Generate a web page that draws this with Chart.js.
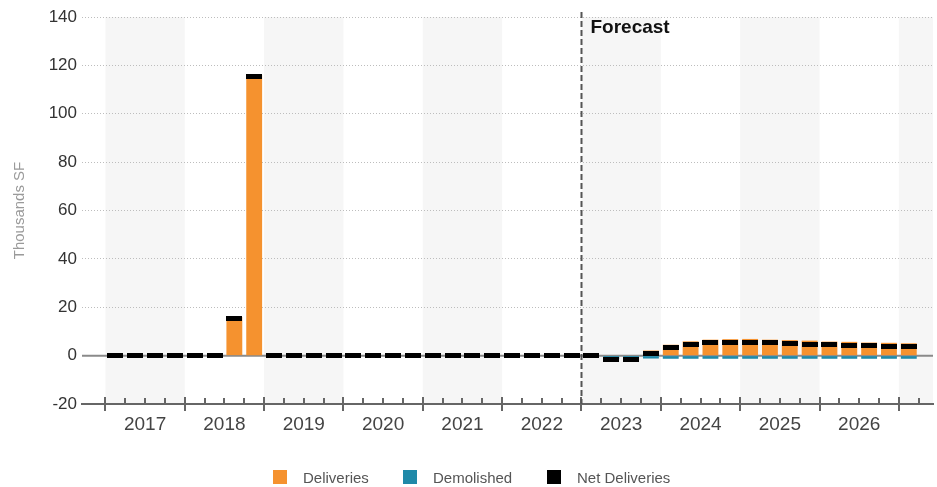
<!DOCTYPE html>
<html>
<head>
<meta charset="utf-8">
<script src="https://cdn.jsdelivr.net/npm/chart.js@4.4.0/dist/chart.umd.min.js"></script>
<style>
  html, body { margin: 0; padding: 0; background: #fff; }
  #wrap { position: relative; width: 937px; height: 487px; }
  #legend { position: absolute; left: 0; top: 470px; width: 937px; height: 16px;
            font: 15px "Liberation Sans", Arial, sans-serif; color: #555; }
  .item { position: absolute; top: 0; height: 14px; display: flex; align-items: center; white-space: nowrap; }
  .box { width: 14px; height: 14px; margin-right: 16px; flex: none; }
</style>
</head>
<body>
<div id="wrap">
  <canvas id="chart" width="937" height="487"></canvas>
  <div id="legend"></div>
</div>
<script>
// Years on the axis, one label per year (4 quarters each)
const yearLabels = ['2017', '2018', '2019', '2020', '2021', '2022', '2023', '2024', '2025', '2026'];
// Quarters drawn: 2017 Q1 .. 2027 Q1
const quarters = yearLabels.concat(['2027'])
    .flatMap(y => ['Q1', 'Q2', 'Q3', 'Q4'].map(q => y + ' ' + q))
    .slice(0, 41);
const forecastStart = '2023 Q1';

// Thousands SF per quarter
const deliveries = [
    0, 0, 0, 0,          // 2017
    0, 0, 16, 116,       // 2018
    0, 0, 0, 0,          // 2019
    0, 0, 0, 0,          // 2020
    0, 0, 0, 0,          // 2021
    0, 0, 0, 0,          // 2022
    0, 0, 0, 2.1,        // 2023
    4.5, 5.9, 6.6, 6.8,  // 2024
    6.9, 6.6, 6.4, 6.2,  // 2025
    5.8, 5.7, 5.4, 5.3,  // 2026
    5.1                  // 2027
];
const demolished = [
    0, 0, 0, 0,
    0, 0, 0, 0,
    0, 0, 0, 0,
    0, 0, 0, 0,
    0, 0, 0, 0,
    0, 0, 0, 0,
    0, -1.4, -1.8, -1.2,
    -1.3, -1.3, -1.3, -1.3,
    -1.3, -1.3, -1.3, -1.3,
    -1.3, -1.3, -1.3, -1.3,
    -1.3
];
const netDeliveries = [
    0, 0, 0, 0,
    0, 0, 15.4, 115.3,
    0, 0, 0, 0,
    0, 0, 0, 0,
    0, 0, 0, 0,
    0, 0, 0, 0,
    0, -1.4, -1.8, 0.9,
    3.2, 4.7, 5.4, 5.5,
    5.6, 5.4, 5.1, 4.8,
    4.5, 4.2, 4.0, 3.85,
    3.6
];
const yTicks = { min: -20, max: 140, step: 20 };

const seriesNames = ['Deliveries', 'Demolished', 'Net Deliveries'];
const seriesColors = ['#f5922f', '#1f89a8', '#000000'];

Chart.defaults.font.family = "'Liberation Sans', Arial, sans-serif";

// little black dash used for the net deliveries marks
const netMark = document.createElement('canvas');
netMark.width = 16;
netMark.height = 5;
const mctx = netMark.getContext('2d');
mctx.fillStyle = seriesColors[2];
mctx.fillRect(0, 0, 16, 5);

const toPoints = arr => arr.map((v, i) => ({ x: i, y: v }));
const forecastIdx = quarters.indexOf(forecastStart);

// year bands, zero line, quarter ticks and forecast marker
const decorations = {
    id: 'decorations',
    beforeDraw(chart) {
        const { ctx, chartArea: a, scales: { x } } = chart;
        ctx.save();
        ctx.fillStyle = '#f6f6f6';
        for (let k = 0; k <= yearLabels.length; k += 2) {
            const l = Math.max(x.getPixelForValue(k * 4 - 0.5), a.left);
            const r = Math.min(x.getPixelForValue(k * 4 + 3.5), a.right);
            if (r > l) ctx.fillRect(l, a.top, r - l, a.bottom - a.top);
        }
        ctx.restore();
    },
    beforeDatasetsDraw(chart) {
        const { ctx, chartArea: a, scales: { y } } = chart;
        const y0 = y.getPixelForValue(0);
        ctx.save();
        ctx.strokeStyle = '#8a8a8a';
        ctx.lineWidth = 2;
        ctx.beginPath();
        ctx.moveTo(a.left, y0);
        ctx.lineTo(a.right, y0);
        ctx.stroke();
        ctx.restore();
    },
    afterDatasetsDraw(chart) {
        const { ctx, chartArea: a, scales: { x } } = chart;
        ctx.save();
        // quarter ticks on the bottom axis
        ctx.strokeStyle = '#666';
        ctx.lineWidth = 2;
        for (let b = 0; b <= quarters.length + 1; b++) {
            const px = Math.round(x.getPixelForValue(b - 0.5));
            if (px < a.left || px > a.right) continue;
            const major = b % 4 === 0;
            ctx.beginPath();
            ctx.moveTo(px, a.bottom - (major ? 7 : 6));
            ctx.lineTo(px, a.bottom + (major ? 7 : 0));
            ctx.stroke();
        }
        // forecast divider
        const fx = Math.round(x.getPixelForValue(forecastIdx - 0.5)) + 0.5;
        ctx.strokeStyle = '#555';
        ctx.setLineDash([6, 3]);
        ctx.beginPath();
        ctx.moveTo(fx, a.top - 5);
        ctx.lineTo(fx, a.bottom);
        ctx.stroke();
        ctx.setLineDash([]);
        ctx.fillStyle = '#111';
        ctx.font = "bold 19px 'Liberation Sans', Arial, sans-serif";
        ctx.textBaseline = 'alphabetic';
        ctx.fillText('Forecast', fx + 9, a.top + 16);
        ctx.restore();
    }
};

new Chart(document.getElementById('chart'), {
    type: 'bar',
    data: {
        datasets: [
            {
                type: 'line',
                label: seriesNames[2],
                data: toPoints(netDeliveries),
                showLine: false,
                pointStyle: netMark,
                pointRadius: 3,
                pointHoverRadius: 3,
                stack: 'net',
                order: 0
            },
            {
                label: seriesNames[0],
                data: toPoints(deliveries),
                backgroundColor: seriesColors[0],
                stack: 'bars',
                order: 1
            },
            {
                label: seriesNames[1],
                data: toPoints(demolished),
                backgroundColor: seriesColors[1],
                stack: 'bars',
                order: 1
            }
        ]
    },
    options: {
        responsive: false,
        animation: false,
        barPercentage: 0.8,
        categoryPercentage: 1,
        layout: { padding: { top: 17, right: 0, bottom: 0, left: 0 } },
        plugins: {
            legend: { display: false },
            tooltip: { enabled: false }
        },
        scales: {
            x: {
                type: 'linear',
                stacked: true,
                offset: false,
                min: -1.68,
                max: 41.22,
                grid: { display: false, drawTicks: false },
                border: { display: true, color: '#666', width: 2 },
                afterBuildTicks: scale => {
                    scale.ticks = yearLabels.map((_, k) => ({ value: k * 4 + 1.5 }));
                },
                afterFit: scale => { scale.height = 83; },
                ticks: {
                    autoSkip: false,
                    maxRotation: 0,
                    padding: 9,
                    color: '#444',
                    font: { size: 19 },
                    callback: (v, i) => yearLabels[i]
                }
            },
            y: {
                stacked: true,
                min: yTicks.min,
                max: yTicks.max,
                afterFit: scale => { scale.width = 82; },
                ticks: {
                    stepSize: yTicks.step,
                    padding: 5,
                    color: '#333',
                    font: { size: 17 }
                },
                grid: {
                    drawTicks: false,
                    lineWidth: 1,
                    color: c => (c.tick && c.tick.value > 0) ? '#bdbdbd' : 'rgba(0,0,0,0)'
                },
                border: { display: false, dash: [1, 2] },
                title: {
                    display: true,
                    text: 'Thousands SF',
                    color: '#9a9a9a',
                    font: { size: 15 },
                    padding: { top: 11, bottom: 0 }
                }
            }
        }
    },
    plugins: [decorations]
});

// legend under the chart
const legendLeft = [273, 403, 547];
const legend = document.getElementById('legend');
seriesNames.forEach((name, i) => {
    const item = document.createElement('div');
    item.className = 'item';
    item.style.left = legendLeft[i] + 'px';
    const box = document.createElement('span');
    box.className = 'box';
    box.style.background = seriesColors[i];
    const label = document.createElement('span');
    label.textContent = name;
    item.appendChild(box);
    item.appendChild(label);
    legend.appendChild(item);
});
</script>
</body>
</html>
